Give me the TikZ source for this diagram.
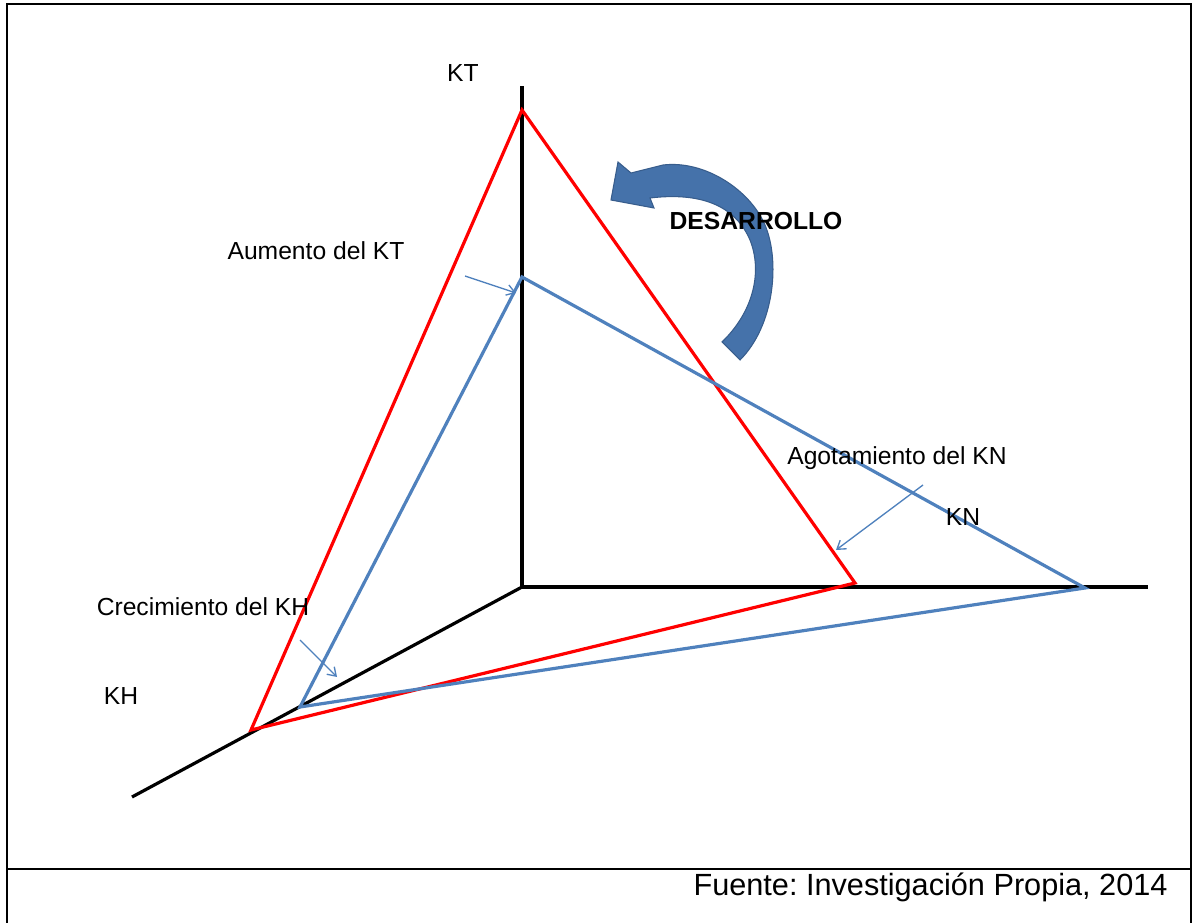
\documentclass[tikz,border=0pt]{standalone}
\usepackage{fontspec}
\setmainfont{Liberation Sans}
\usetikzlibrary{arrows.meta}
\definecolor{rojo}{RGB}{255,0,0}
\definecolor{azul}{RGB}{79,129,189}
\definecolor{azulflecha}{RGB}{69,114,170}
\definecolor{azulborde}{RGB}{56,93,140}
\tikzset{every picture/.style={line width=0.75pt}}
\tikzset{
  eje/.style={draw=black, line width=2.4pt},
  marco/.style={draw=black, line width=2.2pt},
  trired/.style={draw=rojo, line width=2.4pt, line join=miter},
  triblue/.style={draw=azul, line width=2.4pt, line join=miter},
  pointer/.style={draw=azul, line width=1pt, -{Straight Barb[length=6pt,width=8pt]}},
  etiqueta/.style={font=\fontsize{18.5}{20}\selectfont, inner sep=0pt},
  desarrollo/.style={fill=azulflecha, draw=azulborde, line width=0.8pt}
}

\begin{document}
\frenchspacing
\begin{tikzpicture}[x=0.75pt,y=0.75pt,yscale=-1,xscale=1]
\useasboundingbox (0,0) rectangle (1197,923);

% Frame
\draw[marco] (7,923) -- (7,4) -- (1191,4) -- (1191,923) ;
\draw[marco] (7,869) -- (1191,869) ;

% Axes
\coordinate (O) at (522,587) ;
\coordinate (axT) at (522,86) ;
\coordinate (axN) at (1148,587) ;
\coordinate (axH) at (132,797) ;
\draw[eje] (O) -- (axT) ;
\draw[eje] (O) -- (axN) ;
\draw[eje] (O) -- (axH) ;

% Red triangle
\coordinate (rT) at (522,110) ;
\coordinate (rN) at (855,583) ;
\coordinate (rH) at (251,730) ;
\draw[trired] (rT) -- (rN) -- (rH) -- cycle ;

% Blue triangle
\coordinate (bT) at (522,277) ;
\coordinate (bN) at (1085,588) ;
\coordinate (bH) at (300,707) ;
\draw[triblue] (bT) -- (bN) -- (bH) -- cycle ;

% Curved arrow
\filldraw[desarrollo] (740,360)
  .. controls (775,325) and (780,260) .. (765,225)
  .. controls (750,190) and (705,160) .. (663,165)
  -- (631,173) -- (618,162) -- (611,200) -- (654,208) -- (650,198)
  .. controls (700,192) and (735,205) .. (750,240)
  .. controls (762,270) and (755,310) .. (722,342) -- cycle ;

% Text Node
\node[etiqueta] (kt) at (463,73) {KT};
% Text Node
\node[etiqueta] (aumento) at (316,251) {Aumento del KT};
% Text Node
\node[etiqueta, font=\fontsize{18.5}{20}\selectfont\bfseries] (des) at (756,221) {DESARROLLO};
% Text Node
\node[etiqueta] (agota) at (897,458) {Agotamiento del KN};
% Text Node
\node[etiqueta] (kn) at (963,517) {KN};
% Text Node
\node[etiqueta] (crece) at (203,607) {Crecimiento del KH};
% Text Node
\node[etiqueta] (kh) at (121,696) {KH};
% Text Node
\node[etiqueta, font=\fontsize{23}{25}\selectfont, anchor=east] (fuente) at (1168,887) {Fuente: Investigación Propia, 2014};

% Connection
\coordinate (aumS) at (465,276) ;
\coordinate (aumE) at (516,293) ;
\draw[pointer] (aumS) -- (aumE) ;
% Connection
\coordinate (creS) at (300,640) ;
\coordinate (creE) at (337,677) ;
\draw[pointer] (creS) -- (creE) ;
% Connection
\coordinate (agoS) at (923,485) ;
\coordinate (agoE) at (836,550) ;
\draw[pointer] (agoS) -- (agoE) ;

\end{tikzpicture}
\end{document}
